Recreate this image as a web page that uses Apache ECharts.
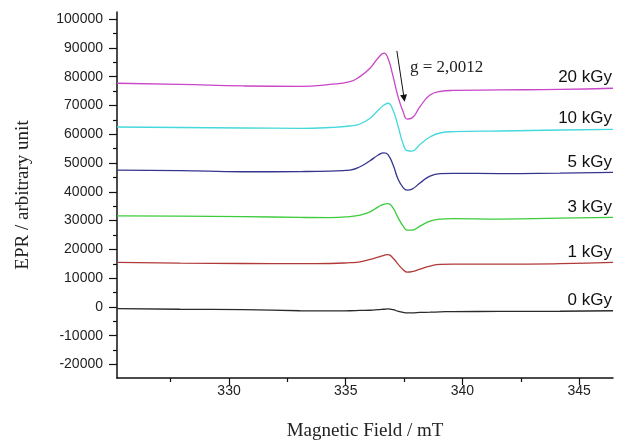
<!DOCTYPE html>
<html>
<head>
<meta charset="utf-8">
<script src="https://cdn.jsdelivr.net/npm/echarts@6/dist/echarts.min.js"></script>
<style>
  html, body { margin: 0; padding: 0; background: #fff; }
  #chart { width: 618px; height: 441px; }
</style>
</head>
<body>
<div id="chart"></div>
<script>
// magnetic field (mT), shared by every spectrum
var field = [325.2, 327.9, 330.6, 333.04, 334.33, 335.18, 335.61, 336.04, 336.38, 336.64, 336.81,
  337.03, 337.24, 337.46, 337.63, 337.84, 338.18, 338.61, 339.04, 339.6, 341.61, 344.18, 346.45];

var doses = ["20 kGy", "10 kGy", "5 kGy", "3 kGy", "1 kGy", "0 kGy"];

var epr20 = [77740, 77330, 76800, 76630, 77330, 78300, 80040, 82960, 86440, 88180, 86440,
  80040, 73080, 67800, 65300, 65700, 69600, 73670, 74890, 75240, 75410, 75590, 76000];
var epr10 = [62540, 62360, 62190, 62080, 62360, 62880, 63580, 65560, 68280, 70190, 70780,
  68280, 62880, 56620, 54360, 54180, 56450, 59060, 60450, 60900, 61140, 61490, 61740];
var epr5 = [47570, 47400, 46980, 47050, 47220, 47570, 48720, 50810, 52720, 53560, 52970,
  49310, 44440, 41480, 40610, 40960, 43050, 45490, 46350, 46420, 46350, 46530, 46770];
var epr3 = [31670, 31560, 31390, 31110, 31040, 31390, 31910, 33060, 34700, 35740, 35910,
  34350, 31040, 28080, 26690, 26690, 28080, 29820, 30520, 30690, 30520, 30870, 31110];
var epr1 = [15450, 15210, 15100, 15030, 15100, 15380, 15660, 16500, 17300, 17920, 18200,
  16950, 14860, 12950, 12080, 12250, 13120, 14160, 14760, 14860, 14860, 15030, 15450];
var epr0 = [-560, -800, -970, -1320, -1390, -1320, -1220, -1150, -970, -800, -700,
  -970, -1500, -1910, -2090, -2090, -1910, -1840, -1740, -1600, -1570, -1500, -1320];

var spectra = [epr20, epr10, epr5, epr3, epr1, epr0];
var colors = ["#c846c8", "#45d8dc", "#35358e", "#3ccc3c", "#b03a3a", "#2a2a2a"];

var xMajor = [330, 335, 340, 345];
var xMinor = [327.5, 332.5, 337.5, 342.5];
var yMajor = [-20000, -10000, 0, 10000, 20000, 30000, 40000, 50000, 60000, 70000, 80000, 90000, 100000];
var yMinor = [-15000, -5000, 5000, 15000, 25000, 35000, 45000, 55000, 65000, 75000, 85000, 95000];

// arrow pointing at the resonance line
var arrowFrom = [337.19, 88980];
var arrowTo = [337.5, 72520];
var gLabel = "g = 2,0012";

var myChart = echarts.init(document.getElementById("chart"));

var xMin = 325.2, xMax = 346.45, yMin = -24700, yMax = 102500;

function pairs(ys) {
  return ys.map(function (v, i) { return [field[i], v]; });
}

var series = spectra.map(function (ys, k) {
  var s = {
    name: doses[k],
    type: "line",
    data: pairs(ys),
    smooth: 0.5,
    symbol: "none",
    lineStyle: { color: colors[k], width: 1.3 },
    silent: true,
    markPoint: {
      symbol: "circle",
      symbolSize: 0,
      silent: true,
      data: [{ coord: [field[field.length - 1], ys[ys.length - 1]] }],
      label: {
        show: true,
        position: [0, 0],
        align: "right",
        verticalAlign: "bottom",
        offset: [-1, -2],
        formatter: function (p) { return p.seriesName; },
        color: "#111",
        fontFamily: "Liberation Sans, Arial, sans-serif",
        fontSize: 17
      }
    }
  };
  if (k === 0) {
    s.markLine = {
      silent: true,
      symbol: ["none", "triangle"],
      symbolSize: 7,
      label: { show: false },
      lineStyle: { color: "#111", width: 1, type: "solid" },
      data: [[{ coord: arrowFrom }, { coord: arrowTo }]]
    };
  }
  return s;
});

var plain = function (v) { return String(v); };

myChart.setOption({
  animation: false,
  grid: { left: 117, right: 5, top: 12, bottom: 63, outerBoundsMode: "none" },
  xAxis: [
    {
      type: "value", min: xMin, max: xMax,
      name: "Magnetic Field / mT",
      nameLocation: "middle",
      nameGap: 44,
      nameTextStyle: { fontFamily: "Liberation Serif, Times New Roman, serif", fontSize: 19, color: "#222" },
      axisLine: { show: true, onZero: false, lineStyle: { color: "#111", width: 1.5 } },
      axisTick: { show: true, length: 7, customValues: xMajor, lineStyle: { color: "#111", width: 1.2 } },
      axisLabel: { customValues: xMajor, formatter: plain, margin: 6, color: "#222", fontSize: 14, fontFamily: "Liberation Sans, Arial, sans-serif" },
      splitLine: { show: false }
    },
    {
      type: "value", min: xMin, max: xMax, position: "bottom",
      axisLine: { show: false, onZero: false },
      axisTick: { show: true, length: 4, customValues: xMinor, lineStyle: { color: "#111", width: 1.2 } },
      axisLabel: { show: false },
      splitLine: { show: false }
    }
  ],
  yAxis: [
    {
      type: "value", min: yMin, max: yMax,
      name: "EPR / arbitrary unit",
      nameLocation: "middle",
      nameGap: 84,
      nameTextStyle: { fontFamily: "Liberation Serif, Times New Roman, serif", fontSize: 19, color: "#222" },
      axisLine: { show: true, onZero: false, lineStyle: { color: "#111", width: 1.5 } },
      axisTick: { show: true, length: 8, customValues: yMajor, lineStyle: { color: "#111", width: 1.2 } },
      axisLabel: { customValues: yMajor, formatter: plain, margin: 14, color: "#222", fontSize: 14, fontFamily: "Liberation Sans, Arial, sans-serif" },
      splitLine: { show: false }
    },
    {
      type: "value", min: yMin, max: yMax, position: "left",
      axisLine: { show: false, onZero: false },
      axisTick: { show: true, length: 4, customValues: yMinor, lineStyle: { color: "#111", width: 1.2 } },
      axisLabel: { show: false },
      splitLine: { show: false }
    }
  ],
  graphic: [
    {
      type: "text",
      left: 410,
      top: 59,
      style: { text: gLabel, fontFamily: "Liberation Serif, Times New Roman, serif", fontSize: 17, fill: "#222" }
    }
  ],
  series: series
});

window.addEventListener("resize", function () {
  myChart.resize();
});
</script>
</body>
</html>
